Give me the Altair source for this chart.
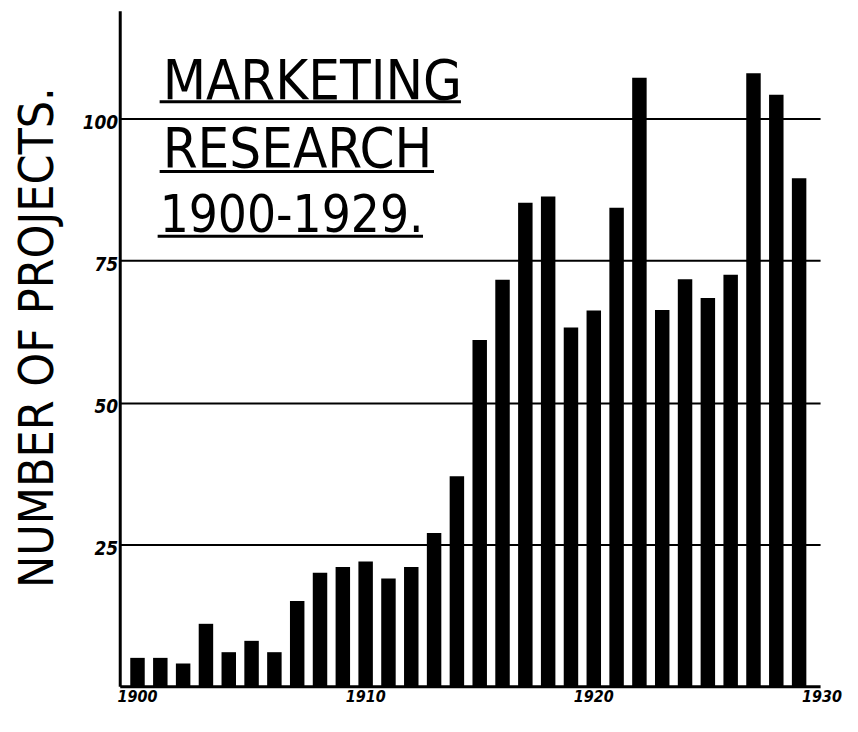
import altair as alt
import pandas as pd

years = list(range(1900, 1930))
projects = [5, 5, 4, 11, 6, 8, 6, 15, 20, 21,
            22, 19, 21, 27, 37, 61, 71.6, 85.2, 86.3, 63.2,
            66.2, 84.3, 107.2, 66.3, 71.7, 68.4, 72.5, 108, 104.2, 89.5]
y_ticks = [25, 50, 75, 100]
x_ticks = [1900, 1910, 1920, 1930]
title_lines = ["MARKETING", "RESEARCH", "1900-1929."]
y_title = "NUMBER OF PROJECTS."

W, H = 702, 677
NARROW = "DejaVu Sans Condensed, sans-serif"

df = pd.DataFrame({"year": years, "projects": projects})
xs = alt.Scale(domain=[1899.44, 1929.7], nice=False, zero=False)
ys = alt.Scale(domain=[0, 119], nice=False)

bars = alt.Chart(df).mark_bar(color="black", width=14.5).encode(
    x=alt.X("year:Q", scale=xs, axis=alt.Axis(
        labels=False, ticks=False, grid=False, title=None,
        domainColor="black", domainWidth=3)),
    y=alt.Y("projects:Q", scale=ys, axis=alt.Axis(
        values=y_ticks, ticks=False, grid=True, gridColor="black", gridWidth=2,
        domainColor="black", domainWidth=3,
        labelFont=NARROW, labelFontSize=19, labelFontStyle="italic",
        labelFontWeight="bold", labelColor="black", labelPadding=2, labelOffset=4,
        title=y_title, titleFont=NARROW, titleFontSize=48, titleFontWeight="normal",
        titleColor="black", titleX=-67, titleY=327, titleAngle=270,
        titleAlign="center", titleBaseline="alphabetic")),
)

xlab = alt.Chart(pd.DataFrame({"year": x_ticks})).mark_text(
    font=NARROW, fontSize=16, fontStyle="italic", fontWeight="bold",
    color="black", baseline="top").encode(
    x=alt.X("year:Q", scale=xs), y=alt.value(H + 3), text=alt.Text("year:Q", format="d"))

title_pos = [(43, 88, 56), (43, 157, 56), (40, 222, 51)]
under_pos = [(40, 342, 91), (40, 315, 161), (38, 304, 226)]
layers = [bars, xlab]
for txt, (tx, ty, fs), (u1, u2, uy) in zip(title_lines, title_pos, under_pos):
    layers.append(alt.Chart(pd.DataFrame({"t": [txt]})).mark_text(
        font=NARROW, fontSize=fs, color="black", align="left",
        baseline="alphabetic").encode(x=alt.value(tx), y=alt.value(ty), text="t:N"))
    layers.append(alt.Chart(pd.DataFrame({"t": [txt]})).mark_rule(
        color="black", strokeWidth=3).encode(
        x=alt.value(u1), x2=alt.value(u2), y=alt.value(uy)))

chart = alt.layer(*layers).properties(
    width=W, height=H,
    background="white",
    autosize=alt.AutoSizeParams(type="none"),
    padding={"left": 112, "top": 2, "right": 30, "bottom": 40},
).configure_view(stroke=None)

chart.save("out.html", embed_options={"renderer": "svg", "actions": False})
